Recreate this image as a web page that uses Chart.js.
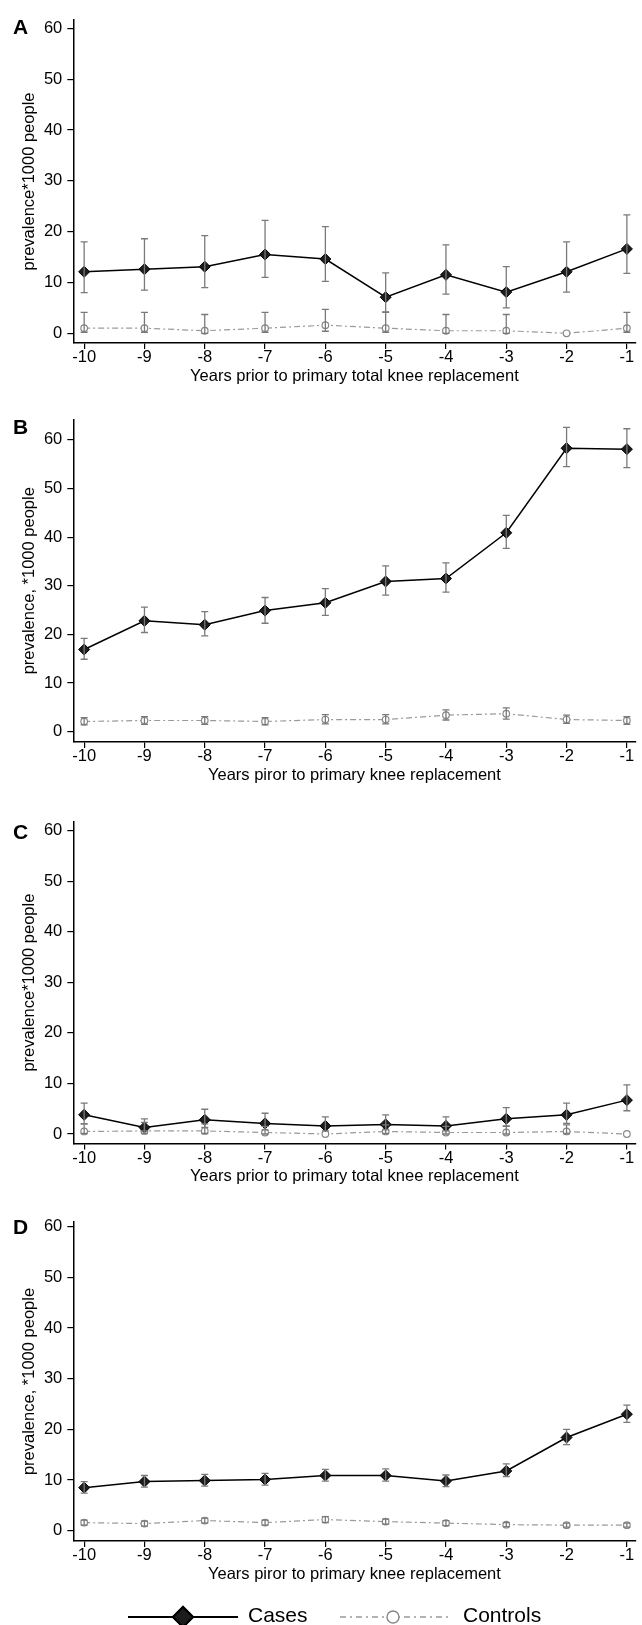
<!DOCTYPE html>
<html>
<head>
<meta charset="utf-8">
<title>Prevalence before knee replacement, cases vs controls</title>
<script src="https://cdn.jsdelivr.net/npm/chart.js@4.4.1/dist/chart.umd.min.js"></script>
<style>
  html, body { margin: 0; padding: 0; background: #fff; }
  #page { position: relative; width: 642px; height: 1625px; overflow: hidden; }
  #page canvas { position: absolute; left: 0; }
  .panel-letter { position: absolute; left: 13px; font: bold 21px/21px "Liberation Sans", Arial, sans-serif; color: #000; }
</style>
</head>
<body>
<div id="page">
  <canvas id="chartA" width="642" height="400" style="top:0px"></canvas>
  <canvas id="chartB" width="642" height="400" style="top:400px"></canvas>
  <canvas id="chartC" width="642" height="400" style="top:800px"></canvas>
  <canvas id="chartD" width="642" height="425" style="top:1200px"></canvas>
  <div class="panel-letter" style="top:15.5px">A</div>
  <div class="panel-letter" style="top:415.5px">B</div>
  <div class="panel-letter" style="top:820.5px">C</div>
  <div class="panel-letter" style="top:1215.5px">D</div>
</div>
<script>
// years before surgery (x) and y tick values
var years = [-10, -9, -8, -7, -6, -5, -4, -3, -2, -1];
var yTicks = [0, 10, 20, 30, 40, 50, 60];

// panel A
var casesA   = [12.1, 12.6, 13.1, 15.5, 14.6, 7.1, 11.5, 8.1, 12.1, 16.6];
var casesALo = [8.0, 8.5, 9.0, 11.0, 10.2, 4.1, 7.7, 5.0, 8.1, 11.8];
var casesAHi = [18.0, 18.6, 19.2, 22.2, 21.0, 11.9, 17.4, 13.1, 18.0, 23.3];
var ctrlA    = [1.0, 1.0, 0.5, 1.0, 1.6, 1.0, 0.5, 0.5, 0.0, 1.0];
var ctrlALo  = [0.2, 0.2, 0.0, 0.2, 0.4, 0.2, 0.0, 0.0, 0.0, 0.2];
var ctrlAHi  = [4.1, 4.1, 3.7, 4.1, 4.7, 4.2, 3.7, 3.7, 0.0, 4.1];

// panel B
var casesB   = [16.9, 22.8, 22.0, 24.9, 26.5, 30.9, 31.5, 40.9, 58.3, 58.1];
var casesBLo = [14.9, 20.4, 19.7, 22.3, 23.9, 28.1, 28.7, 37.7, 54.5, 54.3];
var casesBHi = [19.2, 25.6, 24.7, 27.6, 29.4, 34.1, 34.7, 44.5, 62.6, 62.3];
var ctrlB    = [2.1, 2.3, 2.3, 2.1, 2.5, 2.5, 3.4, 3.7, 2.5, 2.3];
var ctrlBLo  = [1.4, 1.5, 1.5, 1.4, 1.6, 1.6, 2.4, 2.6, 1.7, 1.5];
var ctrlBHi  = [2.9, 3.1, 3.1, 2.9, 3.5, 3.5, 4.5, 4.9, 3.4, 3.1];

// panel C
var casesC   = [3.8, 1.3, 2.8, 2.1, 1.6, 1.9, 1.6, 3.0, 3.8, 6.7];
var casesCLo = [2.0, 0.6, 1.3, 0.8, 0.6, 0.8, 0.6, 1.6, 2.1, 4.6];
var casesCHi = [6.1, 3.0, 4.9, 4.1, 3.4, 3.8, 3.4, 5.2, 6.1, 9.7];
var ctrlC    = [0.5, 0.6, 0.6, 0.3, 0.0, 0.5, 0.3, 0.3, 0.5, 0.0];
var ctrlCLo  = [0.1, 0.1, 0.1, 0.0, 0.0, 0.1, 0.0, 0.0, 0.1, 0.0];
var ctrlCHi  = [2.0, 2.3, 2.0, 1.5, 0.0, 1.8, 1.5, 1.5, 1.8, 0.0];

// panel D
var casesD   = [8.5, 9.7, 9.9, 10.1, 10.9, 10.9, 9.8, 11.8, 18.4, 23.0];
var casesDLo = [7.4, 8.6, 8.8, 9.0, 9.8, 9.8, 8.7, 10.7, 17.0, 21.4];
var casesDHi = [9.7, 10.9, 11.1, 11.3, 12.1, 12.2, 11.0, 13.2, 20.0, 24.8];
var ctrlD    = [1.6, 1.4, 2.0, 1.6, 2.2, 1.8, 1.5, 1.2, 1.1, 1.1];
var ctrlDLo  = [1.1, 0.9, 1.5, 1.1, 1.6, 1.3, 1.0, 0.8, 0.7, 0.7];
var ctrlDHi  = [2.1, 1.9, 2.5, 2.1, 2.8, 2.3, 2.0, 1.6, 1.5, 1.5];

var FONT = '"Liberation Sans", Arial, sans-serif';
var ERR_COLOR = '#7a7a7a';
var CTRL_COLOR = '#9a9a9a';

function pts(vals) {
  return years.map(function (x, i) { return { x: x, y: vals[i] }; });
}

// gray CI whiskers with caps, drawn over the markers like the original
var errorBars = {
  id: 'errorBars',
  afterDatasetsDraw: function (chart) {
    var ctx = chart.ctx, xs = chart.scales.x, ys = chart.scales.y;
    chart.data.datasets.forEach(function (ds) {
      if (!ds.lo) return;
      ctx.save();
      ctx.strokeStyle = ERR_COLOR;
      ctx.lineWidth = 1.3;
      ds.data.forEach(function (p, i) {
        var px = xs.getPixelForValue(p.x);
        var lo = ys.getPixelForValue(ds.lo[i]);
        var hi = ys.getPixelForValue(ds.hi[i]);
        if (Math.abs(lo - hi) < 1) return;
        ctx.beginPath();
        ctx.moveTo(px, lo); ctx.lineTo(px, hi);
        ctx.moveTo(px - 3.5, lo); ctx.lineTo(px + 3.5, lo);
        ctx.moveTo(px - 3.5, hi); ctx.lineTo(px + 3.5, hi);
        ctx.stroke();
      });
      ctx.restore();
    });
  }
};

// legend under panel D: line sample with marker in the middle
var bottomLegend = {
  id: 'bottomLegend',
  afterDraw: function (chart) {
    var ctx = chart.ctx;
    var y = 417;
    var cases = chart.data.datasets[0], ctrl = chart.data.datasets[1];
    ctx.save();
    // Cases
    ctx.strokeStyle = cases.borderColor;
    ctx.lineWidth = 2;
    ctx.beginPath(); ctx.moveTo(128, y); ctx.lineTo(238, y); ctx.stroke();
    Chart.helpers.drawPoint(ctx, { pointStyle: 'rectRot', radius: 10, borderWidth: 1 }, 183, y);
    ctx.fillStyle = cases.pointBackgroundColor;
    ctx.strokeStyle = cases.pointBorderColor;
    ctx.beginPath();
    ctx.moveTo(183, y - 10); ctx.lineTo(193, y); ctx.lineTo(183, y + 10); ctx.lineTo(173, y); ctx.closePath();
    ctx.fill(); ctx.stroke();
    // Controls
    ctx.strokeStyle = CTRL_COLOR;
    ctx.lineWidth = 1.3;
    ctx.setLineDash([6, 4, 2, 4]);
    ctx.beginPath(); ctx.moveTo(340, y); ctx.lineTo(450, y); ctx.stroke();
    ctx.setLineDash([]);
    ctx.fillStyle = '#fff';
    ctx.strokeStyle = '#888';
    ctx.lineWidth = 1.4;
    ctx.beginPath(); ctx.arc(393, y, 6, 0, Math.PI * 2); ctx.fill(); ctx.stroke();
    // labels
    ctx.fillStyle = '#000';
    ctx.font = '21px ' + FONT;
    ctx.textBaseline = 'middle';
    ctx.textAlign = 'left';
    ctx.fillText(cases.label, 248, y - 1);
    ctx.fillText(ctrl.label, 463, y - 1);
    ctx.restore();
  }
};

function makePanel(canvasId, cfg) {
  var plugins = [errorBars];
  if (cfg.legend) plugins.push(bottomLegend);
  return new Chart(document.getElementById(canvasId), {
    type: 'line',
    data: {
      datasets: [
        {
          label: 'Cases',
          data: pts(cfg.cases),
          lo: cfg.casesLo,
          hi: cfg.casesHi,
          borderColor: '#000',
          borderWidth: 1.5,
          pointStyle: 'rectRot',
          pointRadius: 5.5,
          pointBackgroundColor: '#1c1c1c',
          pointBorderColor: '#000',
          pointBorderWidth: 1,
          tension: 0
        },
        {
          label: 'Controls',
          data: pts(cfg.ctrl),
          lo: cfg.ctrlLo,
          hi: cfg.ctrlHi,
          borderColor: CTRL_COLOR,
          borderWidth: 1.2,
          borderDash: [6, 3, 2, 3],
          pointStyle: 'circle',
          pointRadius: 3.3,
          pointBackgroundColor: '#fff',
          pointBorderColor: '#888',
          pointBorderWidth: 1.2,
          tension: 0
        }
      ]
    },
    options: {
      responsive: false,
      animation: false,
      devicePixelRatio: 1,
      layout: { padding: { left: 0, right: 0, top: cfg.padTop, bottom: cfg.padBottom } },
      plugins: { legend: { display: false }, tooltip: { enabled: false } },
      scales: {
        x: {
          type: 'linear',
          min: -10.18,
          max: -0.857,
          afterBuildTicks: function (s) { s.ticks = years.map(function (v) { return { value: v }; }); },
          afterFit: function (s) { s.height = 48; s.paddingLeft = 0; s.paddingRight = 0; },
          grid: { drawOnChartArea: false, drawTicks: true, tickLength: 6, color: '#000', lineWidth: 1.2 },
          border: { display: true, color: '#000', width: 1.5 },
          ticks: { color: '#000', padding: -1, maxRotation: 0, autoSkip: false, font: { family: FONT, size: 16.5 } },
          title: { display: true, text: cfg.xTitle, color: '#000', padding: { top: 0, bottom: 5 }, font: { family: FONT, size: 16.5 } }
        },
        y: {
          type: 'linear',
          min: cfg.yMin,
          max: cfg.yMax,
          afterBuildTicks: function (s) { s.ticks = yTicks.map(function (v) { return { value: v }; }); },
          afterFit: function (s) { s.width = 73.3; s.paddingTop = 0; s.paddingBottom = 0; },
          grid: { drawOnChartArea: false, drawTicks: true, tickLength: 6, color: '#000', lineWidth: 1.2 },
          border: { display: true, color: '#000', width: 1.5 },
          ticks: { color: '#000', padding: 5, font: { family: FONT, size: 16.5 } },
          title: { display: true, text: cfg.yTitle, color: '#000', padding: { top: 20, bottom: 0 }, font: { family: FONT, size: 16.5 } }
        }
      }
    },
    plugins: plugins
  });
}

makePanel('chartA', {
  cases: casesA, casesLo: casesALo, casesHi: casesAHi,
  ctrl: ctrlA, ctrlLo: ctrlALo, ctrlHi: ctrlAHi,
  yMin: -1.91, yMax: 61.63, padTop: 20, padBottom: 9,
  yTitle: 'prevalence*1000 people',
  xTitle: 'Years prior to primary total knee replacement'
});
makePanel('chartB', {
  cases: casesB, casesLo: casesBLo, casesHi: casesBHi,
  ctrl: ctrlB, ctrlLo: ctrlBLo, ctrlHi: ctrlBHi,
  yMin: -2.12, yMax: 64.2, padTop: 19.5, padBottom: 10,
  yTitle: 'prevalence, *1000 people',
  xTitle: 'Years piror to primary knee replacement'
});
makePanel('chartC', {
  cases: casesC, casesLo: casesCLo, casesHi: casesCHi,
  ctrl: ctrlC, ctrlLo: ctrlCLo, ctrlHi: ctrlCHi,
  yMin: -1.88, yMax: 61.78, padTop: 21.7, padBottom: 8.5,
  yTitle: 'prevalence*1000 people',
  xTitle: 'Years prior to primary total knee replacement'
});
makePanel('chartD', {
  cases: casesD, casesLo: casesDLo, casesHi: casesDHi,
  ctrl: ctrlD, ctrlLo: ctrlDLo, ctrlHi: ctrlDHi,
  yMin: -2.03, yMax: 60.93, padTop: 22, padBottom: 36,
  yTitle: 'prevalence, *1000 people',
  xTitle: 'Years piror to primary knee replacement',
  legend: true
});
</script>
</body>
</html>
